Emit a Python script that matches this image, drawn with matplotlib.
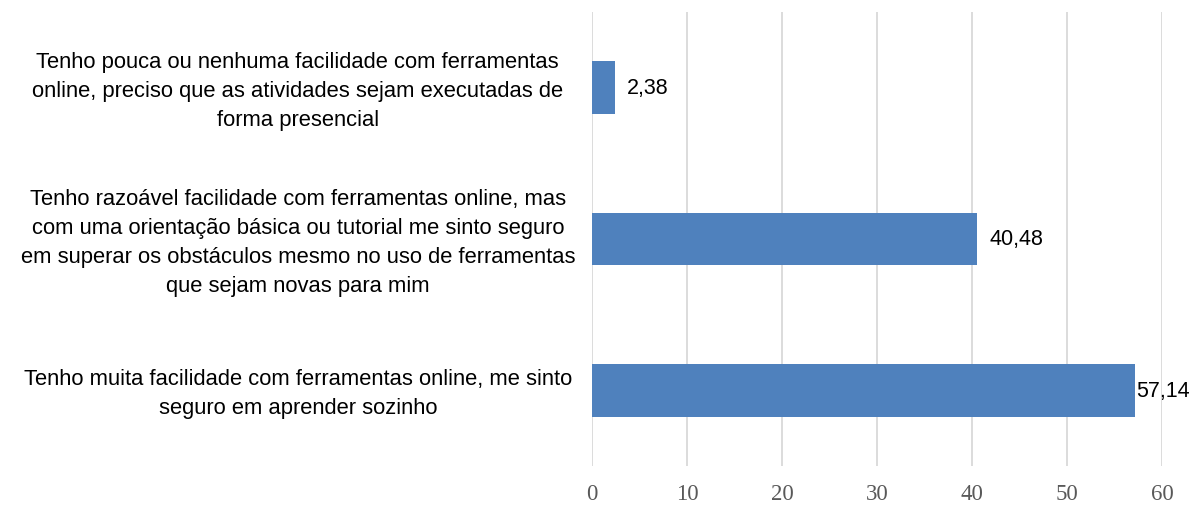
import matplotlib
matplotlib.use("Agg")
import matplotlib.pyplot as plt
import numpy as np

# categories from bottom to top, as drawn
categories = [
    "Tenho muita facilidade com ferramentas online, me sinto\nseguro em aprender sozinho",
    "Tenho razoável facilidade com ferramentas online, mas\ncom uma orientação básica ou tutorial me sinto seguro\nem superar os obstáculos mesmo no uso de ferramentas\nque sejam novas para mim",
    "Tenho pouca ou nenhuma facilidade com ferramentas\nonline, preciso que as atividades sejam executadas de\nforma presencial",
]
values = [57.14, 40.48, 2.38]
value_labels = ["57,14", "40,48", "2,38"]
xticks = [0, 10, 20, 30, 40, 50, 60]

bar_color = "#4F81BD"
grid_color = "#D9D9D9"

fig = plt.figure(figsize=(11.96, 5.06), dpi=100)
ax = fig.add_axes([0.495, 0.0771, 0.4766, 0.8972])

y = np.arange(len(categories))
ax.barh(y, values, height=0.35, color=bar_color, zorder=3)

# value labels at the end of each bar
pads = [1, 9, 9]
for yi, v, lab, p in zip(y, values, value_labels, pads):
    ax.annotate(lab, xy=(v, yi), xytext=(p, 0), textcoords="offset points",
                va="center", ha="left", fontsize=15.5, family="Liberation Sans", color="black")

ax.set_xlim(0, 60)
ax.set_ylim(-0.5, 2.5)
ax.set_xticks(xticks)
ax.set_xticklabels([str(t) for t in xticks], family="Liberation Serif", fontsize=16.5, color="#595959")
ax.tick_params(axis="x", length=0, pad=12)
ax.xaxis.grid(True, color=grid_color, linewidth=1.3, zorder=0)

ax.set_yticks([])
for s in ax.spines.values():
    s.set_visible(False)

# category labels, centred in the left column (a touch below the bar centre)
for yi, cat in zip(y, categories):
    ypix = ax.transData.transform((0, yi))[1] - 3
    fig.text(0.249, ypix / fig.bbox.height, cat,
             ha="center", va="center", fontsize=15.8, family="Liberation Sans",
             linespacing=1.5, color="black")

fig.savefig("out.png", dpi=100)
